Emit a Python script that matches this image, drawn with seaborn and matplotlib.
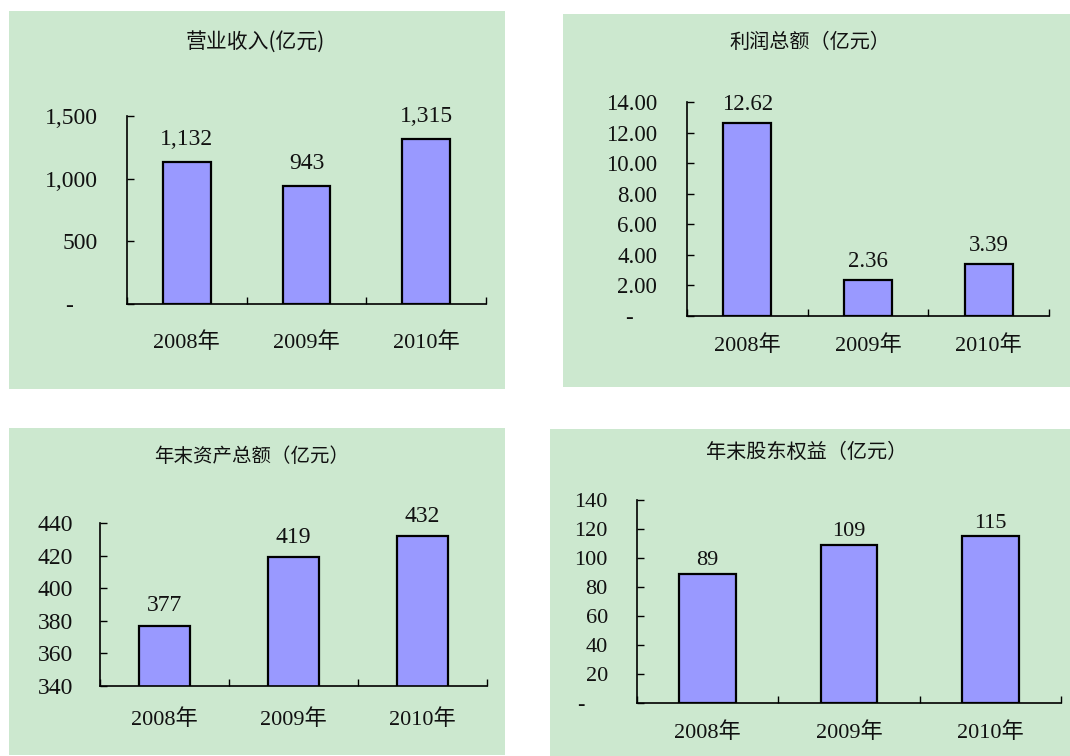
import matplotlib
matplotlib.use('Agg')
import matplotlib.pyplot as plt
import seaborn as sns
import pandas as pd
from matplotlib.ticker import FixedLocator, FixedFormatter

# ---------------- data ----------------
years = ['2008年', '2009年', '2010年']

revenue = [1132, 943, 1315]
revenue_labels = ['1,132', '943', '1,315']
revenue_ticks = [0, 500, 1000, 1500]
revenue_ticklabels = ['-', '500', '1,000', '1,500']

profit = [12.62, 2.36, 3.39]
profit_labels = ['12.62', '2.36', '3.39']
profit_ticks = [0, 2, 4, 6, 8, 10, 12, 14]
profit_ticklabels = ['-', '2.00', '4.00', '6.00', '8.00', '10.00', '12.00', '14.00']

assets = [377, 419, 432]
assets_labels = ['377', '419', '432']
assets_ticks = [340, 360, 380, 400, 420, 440]
assets_ticklabels = ['340', '360', '380', '400', '420', '440']

equity = [89, 109, 115]
equity_labels = ['89', '109', '115']
equity_ticks = [0, 20, 40, 60, 80, 100, 120, 140]
equity_ticklabels = ['-', '20', '40', '60', '80', '100', '120', '140']

titles = ['营业收入(亿元)', '利润总额（亿元）', '年末资产总额（亿元）', '年末股东权益（亿元）']

# ---------------- style ----------------
sns.set_theme(style='white')
plt.rcParams['font.family'] = ['Liberation Serif', 'Noto Sans CJK SC', 'DejaVu Sans']

W, H = 1070, 756
BG = '#CCE8CF'
BAR = '#9999FF'

fig = plt.figure(figsize=(W / 100, H / 100), dpi=100, facecolor='white')

def fig_rect(x0, y0, x1, y1):
    return [x0 / W, 1 - y1 / H, (x1 - x0) / W, (y1 - y0) / H]

panels = [
    dict(values=revenue, labels=revenue_labels, ticks=revenue_ticks, ticklabels=revenue_ticklabels,
         bg=(9, 11, 505, 389), ax=(127, 116, 486, 304), title_xy=(255, 42), title_fs=15,
         vpad=8.6, xpad=20, ypad=21, tfs=17, zero_pad='    '),
    dict(values=profit, labels=profit_labels, ticks=profit_ticks, ticklabels=profit_ticklabels,
         bg=(563, 14, 1070, 387), ax=(687, 102, 1049, 316), title_xy=(810, 42), title_fs=14.5,
         vpad=5.8, xpad=14, ypad=21.5, tfs=16.5, zero_pad='    '),
    dict(values=assets, labels=assets_labels, ticks=assets_ticks, ticklabels=assets_ticklabels,
         bg=(9, 428, 505, 755), ax=(100, 523, 487, 686), title_xy=(252, 457), title_fs=14,
         vpad=6.8, xpad=17, ypad=19.5, tfs=17, zero_pad=''),
    dict(values=equity, labels=equity_labels, ticks=equity_ticks, ticklabels=equity_ticklabels,
         bg=(550, 429, 1070, 756), ax=(637, 500, 1061, 703), title_xy=(807, 452), title_fs=14.5,
         vpad=2.5, xpad=13.5, ypad=21, tfs=16, zero_pad='    '),
]

for i, p in enumerate(panels):
    # panel background as its own axes, behind the chart
    bg_ax = fig.add_axes(fig_rect(*p['bg']), zorder=-5)
    bg_ax.set_facecolor(BG)
    bg_ax.set_xticks([])
    bg_ax.set_yticks([])
    for s in bg_ax.spines.values():
        s.set_visible(False)

    ax = fig.add_axes(fig_rect(*p['ax']), zorder=1)
    ax.set_facecolor('none')
    df = pd.DataFrame({'year': years, 'value': p['values']})
    sns.barplot(data=df, x='year', y='value', ax=ax, color=BAR, saturation=1,
                edgecolor='black', linewidth=1.6, width=0.4)
    ax.set_xlim(-0.5, len(years) - 0.5)
    ax.set_ylim(p['ticks'][0], p['ticks'][-1])
    ax.set_xlabel('')
    ax.set_ylabel('')

    # y axis
    tl = [t + p['zero_pad'] if t == '-' else t for t in p['ticklabels']]
    ax.yaxis.set_major_locator(FixedLocator(p['ticks']))
    ax.yaxis.set_major_formatter(FixedFormatter(tl))
    ax.tick_params(axis='y', which='major', direction='in', length=5, width=1, color='black',
                   pad=p['ypad'], labelsize=p['tfs'], labelcolor='#111111', left=True)

    # x axis: boundary ticks, labels at centers
    ax.xaxis.set_major_locator(FixedLocator([k - 0.5 for k in range(len(years) + 1)]))
    ax.xaxis.set_major_formatter(FixedFormatter([''] * (len(years) + 1)))
    ax.xaxis.set_minor_locator(FixedLocator(list(range(len(years)))))
    ax.xaxis.set_minor_formatter(FixedFormatter(years))
    ax.tick_params(axis='x', which='major', direction='in', length=5, width=1, color='black', bottom=True)
    ax.tick_params(axis='x', which='minor', length=0, pad=p['xpad'], labelsize=16,
                   labelcolor='#111111', bottom=True)

    for s in ['top', 'right']:
        ax.spines[s].set_visible(False)
    for s in ['left', 'bottom']:
        ax.spines[s].set_visible(True)
        ax.spines[s].set_color('black')
        ax.spines[s].set_linewidth(1.2)

    ax.bar_label(ax.containers[0], labels=p['labels'], padding=p['vpad'],
                 fontsize=p['tfs'], color='#111111')

    tx, ty = p['title_xy']
    fig.text(tx / W, 1 - ty / H, titles[i], ha='center', va='center',
             fontsize=p['title_fs'], family=['Noto Sans CJK SC', 'DejaVu Sans'], color='#111111',
             zorder=3)

fig.savefig('out.png', dpi=100, facecolor='white')
